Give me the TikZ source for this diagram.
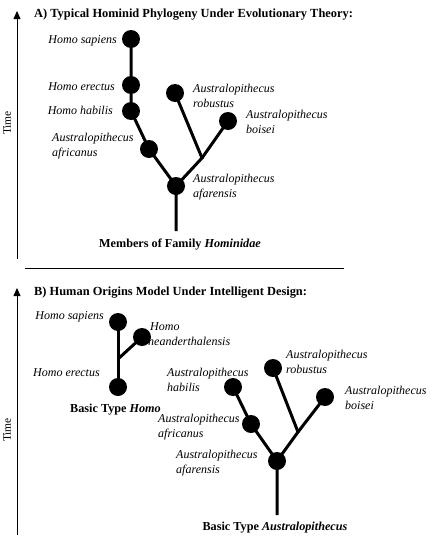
\documentclass[tikz,border=0pt]{standalone}
\usepackage{fontspec}
\setmainfont{Liberation Serif}
\usetikzlibrary{arrows.meta}
\tikzset{
  taxon/.style={circle,fill=black,minimum size=18pt,inner sep=0pt},
  lbl/.style={inner sep=0pt,font=\fontsize{12}{15}\selectfont\itshape,align=left},
  ttl/.style={inner sep=0pt,font=\fontsize{12.4}{14}\selectfont\bfseries,anchor=west},
  sub/.style={inner sep=0pt,font=\fontsize{12.2}{14}\selectfont\bfseries},
  branch/.style={line width=3pt},
  axis/.style={line width=0.8pt,-{Triangle[width=7pt,length=8pt]}},
  timelbl/.style={inner sep=0pt,rotate=90,font=\fontsize{11.5}{13}\selectfont}
}
\begin{document}
\begin{tikzpicture}[x=1pt,y=-1pt]
\useasboundingbox (0,0) rectangle (436,541);
% ---------- Panel A ----------
\node[ttl] (titleA) at (34,15) {A) Typical Hominid Phylogeny Under Evolutionary Theory:};
\coordinate (axAbot) at (17,259);
\coordinate (axAtop) at (17,11);
\draw[axis] (axAbot) -- (axAtop);
\node[timelbl] (timeA) at (7,123) {Time};

\node[taxon] (Asap) at (131,39) {};
\node[taxon] (Aere) at (131,85) {};
\node[taxon] (Ahab) at (131,111) {};
\node[taxon] (Aafr) at (149,149) {};
\node[taxon] (Aafa) at (176,186) {};
\node[taxon] (Arob) at (175,93) {};
\node[taxon] (Aboi) at (228,121) {};
\coordinate (Ajun) at (202,158);
\coordinate (Aroot) at (176,231);

\draw[branch] (Asap.center) -- (Aere.center) -- (Ahab.center) -- (Aafr.center) -- (Aafa.center) -- (Aroot);
\draw[branch] (Arob.center) -- (Ajun) -- (Aafa.center);
\draw[branch] (Aboi.center) -- (Ajun);

\node[lbl,anchor=east] (lAsap) at (117,41) {Homo sapiens};
\node[lbl,anchor=east] (lAere) at (115,87) {Homo erectus};
\node[lbl,anchor=east] (lAhab) at (113,110) {Homo habilis};
\node[lbl,anchor=west] (lAafr) at (52,146) {Australopithecus\\africanus};
\node[lbl,anchor=west] (lArob) at (193,96) {Australopithecus\\robustus};
\node[lbl,anchor=west] (lAboi) at (246,122) {Australopithecus\\boisei};
\node[lbl,anchor=west] (lAafa) at (193,187) {Australopithecus\\afarensis};
\node[sub] (subA) at (180,245) {Members of Family \textit{Hominidae}};

\coordinate (sepL) at (25,268);
\coordinate (sepR) at (344,268);
\draw[line width=0.8pt] (sepL) -- (sepR);

% ---------- Panel B ----------
\node[ttl] (titleB) at (34,293) {B) Human Origins Model Under Intelligent Design:};
\coordinate (axBbot) at (17,535);
\coordinate (axBtop) at (17,288);
\draw[axis] (axBbot) -- (axBtop);
\node[timelbl] (timeB) at (7,430) {Time};

\node[taxon] (Bsap) at (118,322) {};
\node[taxon] (Bnea) at (142,337) {};
\node[taxon] (Bere) at (118,387) {};
\coordinate (Bjh) at (118,359);
\draw[branch] (Bsap.center) -- (Bere.center);
\draw[branch] (Bjh) -- (Bnea.center);

\node[lbl,anchor=east] (lBsap) at (104,317) {Homo sapiens};
\node[lbl,anchor=west] (lBnea) at (148,334) {\,Homo\\neanderthalensis};
\node[lbl,anchor=west] (lBere) at (33,373) {Homo erectus};
\node[sub,anchor=west] (subBh) at (70,410) {Basic Type \textit{Homo}};

\node[taxon] (Bhab) at (233,387) {};
\node[taxon] (Brob) at (273,368) {};
\node[taxon] (Bboi) at (325,397) {};
\node[taxon] (Bafr) at (251,424) {};
\node[taxon] (Bafa) at (277,461) {};
\coordinate (Bja) at (298,432);
\coordinate (Broot) at (277,515);
\draw[branch] (Bhab.center) -- (Bafr.center) -- (Bafa.center) -- (Broot);
\draw[branch] (Brob.center) -- (Bja) -- (Bafa.center);
\draw[branch] (Bboi.center) -- (Bja);

\node[lbl,anchor=west] (lBhab) at (167,380) {Australopithecus\\habilis};
\node[lbl,anchor=west] (lBrob) at (286,362) {Australopithecus\\robustus};
\node[lbl,anchor=west] (lBboi) at (345,398) {Australopithecus\\boisei};
\node[lbl,anchor=west] (lBafr) at (158,427) {Australopithecus\\africanus};
\node[lbl,anchor=west] (lBafa) at (176,463) {Australopithecus\\afarensis};
\node[sub] (subBa) at (275,528) {Basic Type \textit{Australopithecus}};
\end{tikzpicture}
\end{document}
